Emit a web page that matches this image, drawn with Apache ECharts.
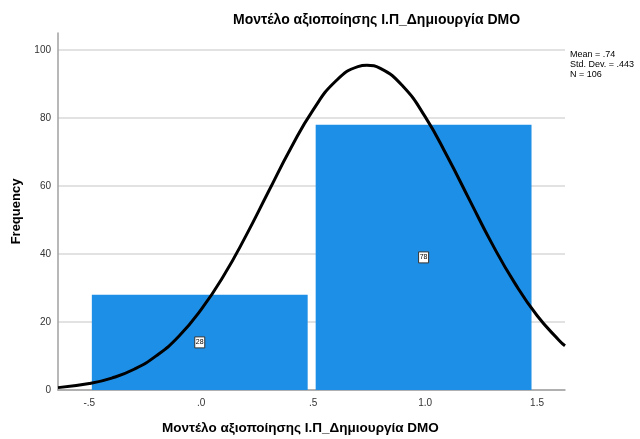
<!DOCTYPE html>
<html>
<head>
<meta charset="utf-8">
<script src="https://cdn.jsdelivr.net/npm/echarts@6/dist/echarts.min.js"></script>
<style>
  html, body { margin: 0; padding: 0; background: #fff; }
  #main { width: 640px; height: 439px; }
</style>
</head>
<body>
<div id="main"></div>
<script>
// histogram bins
var binStart = [-0.5, 0.5];
var binEnd = [0.5, 1.5];
var counts = [28, 78];

// normal curve
var curveX = [-0.64, -0.5, -0.4, -0.3, -0.2, -0.1, 0, 0.1, 0.2, 0.3, 0.4, 0.5, 0.6, 0.7, 0.74, 0.8, 0.9, 1.0, 1.1, 1.2, 1.3, 1.4, 1.5, 1.6, 1.625];
var curveY = [0.7, 1.9, 3.5, 6.1, 10.1, 15.8, 23.7, 33.6, 45.4, 58.3, 71.1, 82.4, 90.8, 95.1, 95.5, 94.6, 89.4, 80.4, 68.6, 55.7, 42.9, 31.5, 21.9, 14.5, 13.0];

var xTicks = [-0.5, 0, 0.5, 1.0, 1.5];
var yTicks = [0, 20, 40, 60, 80, 100];

var title = 'Μοντέλο αξιοποίησης Ι.Π_Δημιουργία DMO';
var stats = ['Mean = .74', 'Std. Dev. = .443', 'N = 106'];

var font = 'Arial, "Liberation Sans", sans-serif';

// SPSS style: drop the leading zero
function fmt(v) {
  var s = v.toFixed(1);
  if (s === '0.0') return '.0';
  if (s.indexOf('-0.') === 0) return '-' + s.slice(2);
  if (s.indexOf('0.') === 0) return s.slice(1);
  return s;
}

var barData = binStart.map(function (s, i) { return [s, binEnd[i], counts[i]]; });
var lineData = curveX.map(function (x, i) { return [x, curveY[i]]; });

var myChart = echarts.init(document.getElementById('main'));
myChart.setOption({
  animation: false,
  textStyle: { fontFamily: font },
  title: {
    text: title,
    left: 228, top: 8,
    textStyle: { fontSize: 14, fontWeight: 'bold', color: '#000', fontFamily: font }
  },
  grid: { left: 58, right: 75, top: 33, bottom: 49 },
  xAxis: {
    type: 'value',
    min: -0.64, max: 1.625,
    axisLine: { lineStyle: { color: '#a0a0a0', width: 1.5 } },
    axisTick: { show: false, customValues: xTicks },
    axisLabel: { customValues: xTicks, formatter: fmt, color: '#333', fontSize: 10, margin: 8 },
    splitLine: { show: false }
  },
  yAxis: {
    type: 'value',
    min: 0, max: 105,
    name: 'Frequency',
    nameLocation: 'middle',
    nameGap: 34,
    nameRotate: 90,
    nameTextStyle: { fontSize: 13, fontWeight: 'bold', color: '#000', fontFamily: font },
    axisLine: { show: true, onZero: false, lineStyle: { color: '#a0a0a0', width: 1.5 } },
    axisTick: { show: false, customValues: yTicks },
    axisLabel: { customValues: yTicks, color: '#333', fontSize: 10, margin: 7 },
    splitLine: { show: true, lineStyle: { color: '#d9d9d9', width: 1.5 } }
  },
  graphic: [
    {
      type: 'text',
      left: 570, top: 50,
      style: { text: stats.join('\n'), font: '9px ' + font, fill: '#000', lineHeight: 10 }
    },
    {
      type: 'text',
      left: 162, top: 421,
      style: { text: title, font: 'bold 13.5px ' + font, fill: '#000' }
    }
  ],
  series: [
    {
      type: 'custom',
      data: barData,
      encode: { x: [0, 1], y: 2 },
      renderItem: function (params, api) {
        var p0 = api.coord([api.value(0), api.value(2)]);
        var p1 = api.coord([api.value(1), 0]);
        var x0 = p0[0] + 2.5, x1 = p1[0] - 5.5;
        var midY = (p0[1] + p1[1]) / 2;
        var cx = (x0 + x1) / 2;
        return {
          type: 'group',
          children: [
            {
              type: 'rect',
              shape: { x: x0, y: p0[1], width: x1 - x0, height: p1[1] - p0[1] },
              style: { fill: '#1e8fe6' }
            },
            {
              type: 'rect',
              shape: { x: cx - 5, y: midY - 5.5, width: 10, height: 11 },
              style: { fill: '#fff', stroke: '#333', lineWidth: 1 }
            },
            {
              type: 'text',
              style: {
                x: cx, y: midY, text: String(api.value(2)),
                align: 'center', verticalAlign: 'middle',
                font: '7px ' + font, fill: '#000'
              }
            }
          ]
        };
      },
      z: 2
    },
    {
      type: 'line',
      data: lineData,
      smooth: true,
      showSymbol: false,
      lineStyle: { color: '#000', width: 3 },
      z: 3
    }
  ]
});
</script>
</body>
</html>
